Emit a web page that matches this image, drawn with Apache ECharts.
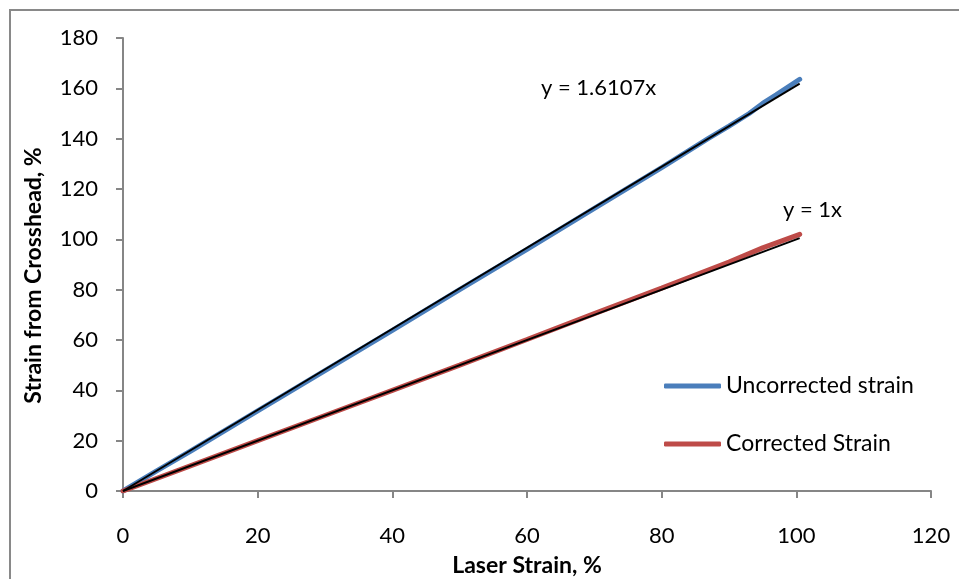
<!DOCTYPE html>
<html>
<head>
<meta charset="utf-8">
<script src="https://cdn.jsdelivr.net/npm/echarts@6/dist/echarts.min.js"></script>
<style>html,body{margin:0;padding:0;background:#fff;}#c{width:959px;height:579px;}</style>
</head>
<body>
<div id="c"></div>
<script>
const seriesNames = ['Uncorrected strain', 'Corrected Strain'];
const uncorrected = [[0,0],[5,8],[10,15.8],[20,31.8],[30,47.8],[40,63.8],[50,80],[60,96],[70,112.3],[80,128.5],[87,140.2],[90,145],[93,150],[95,154],[97,157.4],[100.5,163.6]];
const corrected = [[0,0],[10,10],[20,20],[30,30],[40,40],[50,50],[60,60.2],[70,70.5],[80,80.6],[90,91],[95,96.6],[100.5,102]];
const trendSlopes = [1.6107, 1];
const trendXMax = 100.5;
const trendLabels = ['y = 1.6107x', 'y = 1x'];
const xName = 'Laser Strain, %';
const yName = 'Strain from Crosshead, %';

const FONT = 'Lato';
const chart = echarts.init(document.getElementById('c'), null, {renderer: 'canvas'});
const trend = s => [[0,0],[trendXMax, s*trendXMax]];
chart.setOption({
  animation: false,
  backgroundColor: '#fff',
  textStyle: {fontFamily: FONT},
  grid: {left: 123, right: 28, top: 38, bottom: 88, containLabel: false, outerBoundsMode: 'none'},
  xAxis: {
    type: 'value', min: 0, max: 120, interval: 20,
    name: xName, nameLocation: 'middle', nameGap: 63,
    nameTextStyle: {fontFamily: FONT, fontSize: 23, fontWeight: 'bold', color: '#000'},
    axisLine: {show: true, lineStyle: {color: '#868686', width: 2}},
    axisTick: {show: true, length: 7, lineStyle: {color: '#868686', width: 2}},
    axisLabel: {fontFamily: FONT, fontSize: 22, color: '#000', margin: 34},
    splitLine: {show: false}
  },
  yAxis: {
    type: 'value', min: 0, max: 180, interval: 20,
    name: yName, nameLocation: 'middle', nameGap: 78, nameRotate: 90,
    nameTextStyle: {fontFamily: FONT, fontSize: 23, fontWeight: 'bold', color: '#000', padding: [0, 22, 0, 0]},
    axisLine: {show: true, lineStyle: {color: '#868686', width: 2}},
    axisTick: {show: true, length: 7, lineStyle: {color: '#868686', width: 2}},
    axisLabel: {fontFamily: FONT, fontSize: 22, color: '#000', margin: 25},
    splitLine: {show: false}
  },
  legend: {
    data: seriesNames,
    orient: 'vertical', left: 659, top: 369,
    icon: 'roundRect', itemWidth: 57, itemHeight: 5, itemGap: 34,
    textStyle: {fontFamily: FONT, fontSize: 23, lineHeight: 24, color: '#000'}
  },
  series: [
    {name: seriesNames[0], type: 'line', data: uncorrected, showSymbol: false,
     lineStyle: {color: '#4A7EBB', width: 5, cap: 'round'}, itemStyle: {color: '#4A7EBB'}, z: 2},
    {name: seriesNames[1], type: 'line', data: corrected, showSymbol: false,
     lineStyle: {color: '#BE4B48', width: 5, cap: 'round'}, itemStyle: {color: '#BE4B48'}, z: 2},
    {name: 'trend1', type: 'line', data: trend(trendSlopes[0]), showSymbol: false,
     lineStyle: {color: '#000', width: 2}, z: 3},
    {name: 'trend2', type: 'line', data: trend(trendSlopes[1]), showSymbol: false,
     lineStyle: {color: '#000', width: 2}, z: 3}
  ],
  graphic: [
    {type: 'rect', shape: {x: 10, y: 10, width: 1000, height: 1000}, style: {fill: 'none', stroke: '#898989', lineWidth: 2}, silent: true},
    {type: 'text', left: 541, top: 77, style: {text: trendLabels[0], font: '22px ' + FONT, fill: '#000'}},
    {type: 'text', left: 783, top: 199, style: {text: trendLabels[1], font: '22px ' + FONT, fill: '#000'}}
  ]
});
</script>
</body>
</html>
